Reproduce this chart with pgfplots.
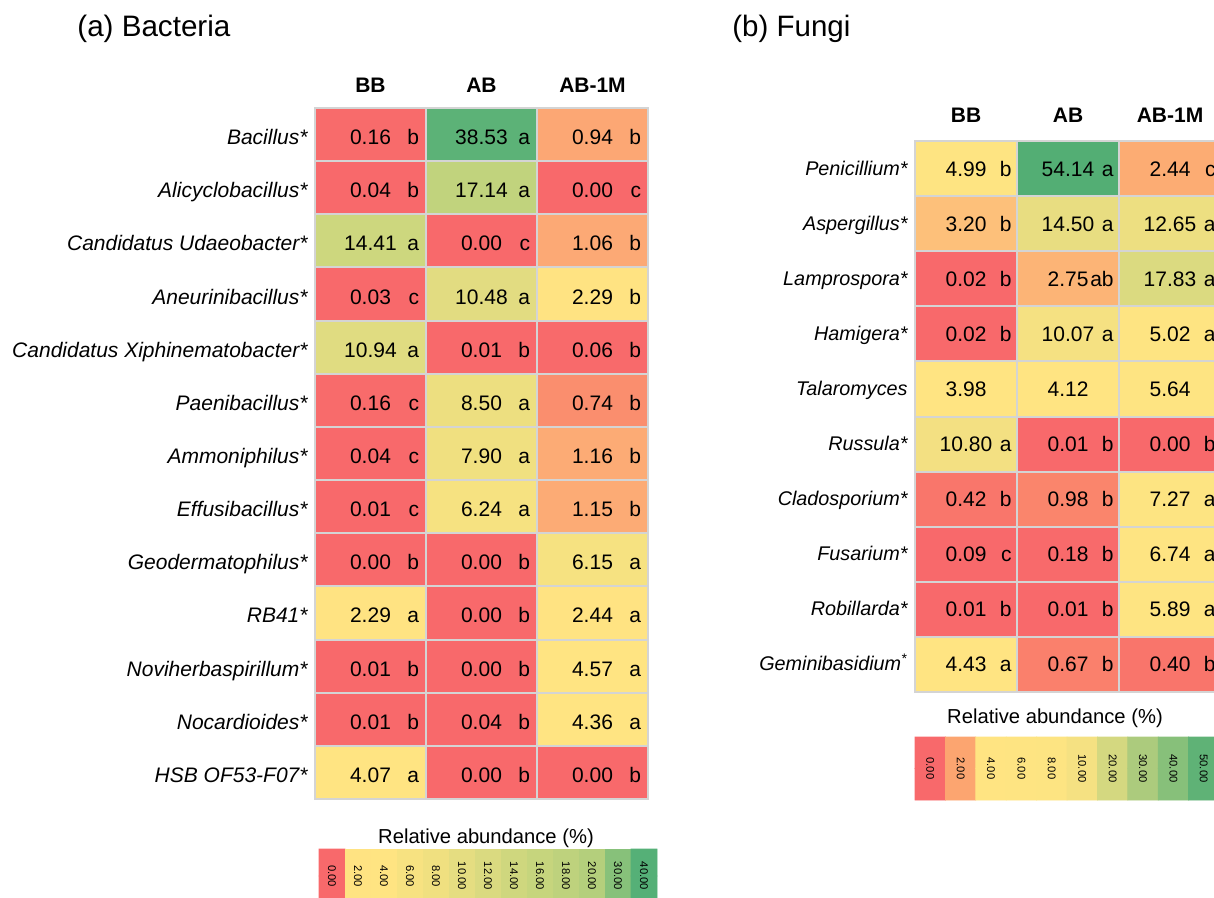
\documentclass[border=0pt]{standalone}
\usepackage{pgfplots}
\pgfplotsset{compat=1.18}
\usepackage{fontspec}
\setmainfont{Liberation Sans}
\definecolor{gridc}{RGB}{212,212,212}
\newcommand{\cellfont}{\fontsize{10.5}{12}\selectfont}

\pgfplotsset{
  heat/.style={
    scale only axis, axis on top, clip=false,
    xmin=-0.5, xmax=2.5, y dir=reverse,
    xtick={0,1,2}, xticklabels={BB,AB,AB-1M}, xticklabel pos=right,
    xticklabel style={font=\cellfont\bfseries, anchor=base, inner sep=0pt},
    yticklabel style={anchor=base east, inner sep=0pt},
    minor xtick={0.5,1.5},
    major tick length=0pt, minor tick length=0pt,
    xminorgrids, yminorgrids,
    minor grid style={gridc, line width=1pt},
    axis line style={gridc, line width=1pt},
    tick style={draw=none},
  },
  colormap={bact}{rgb255(0pt)=(248,105,107) rgb255(0.3pt)=(248,108,107) rgb255(0.74pt)=(250,142,110)
     rgb255(0.9pt)=(252,166,116) rgb255(1.2pt)=(252,172,117) rgb255(2pt)=(255,227,130)
     rgb255(4.6pt)=(255,228,130) rgb255(6pt)=(247,226,129) rgb255(8pt)=(240,224,128)
     rgb255(10pt)=(229,221,129) rgb255(12pt)=(218,218,128) rgb255(14pt)=(207,215,126)
     rgb255(16pt)=(198,213,125) rgb255(18pt)=(190,210,125) rgb255(20pt)=(180,207,124)
     rgb255(30pt)=(135,193,122) rgb255(40pt)=(85,176,119)},
  colormap={fung}{rgb255(0pt)=(248,105,107) rgb255(0.2pt)=(248,106,107) rgb255(0.41pt)=(249,118,107)
     rgb255(0.67pt)=(250,128,108) rgb255(1pt)=(250,133,108) rgb255(2pt)=(252,165,112)
     rgb255(2.44pt)=(252,172,115) rgb255(3.2pt)=(253,192,122) rgb255(3.9pt)=(255,228,130)
     rgb255(8pt)=(253,228,130) rgb255(10pt)=(245,225,130) rgb255(14.5pt)=(232,221,129)
     rgb255(18pt)=(218,218,128) rgb255(20pt)=(212,216,128) rgb255(30pt)=(172,203,125)
     rgb255(40pt)=(135,192,122) rgb255(50pt)=(95,178,118) rgb255(55pt)=(80,173,115)},
}

\pgfplotstableread{
x y v
0 0 0.16
1 0 38.53
2 0 0.94
0 1 0.04
1 1 17.14
2 1 0.00
0 2 14.41
1 2 0.00
2 2 1.06
0 3 0.03
1 3 10.48
2 3 2.29
0 4 10.94
1 4 0.01
2 4 0.06
0 5 0.16
1 5 8.50
2 5 0.74
0 6 0.04
1 6 7.90
2 6 1.16
0 7 0.01
1 7 6.24
2 7 1.15
0 8 0.00
1 8 0.00
2 8 6.15
0 9 2.29
1 9 0.00
2 9 2.44
0 10 0.01
1 10 0.00
2 10 4.57
0 11 0.01
1 11 0.04
2 11 4.36
0 12 4.07
1 12 0.00
2 12 0.00
}\bactdata

\pgfplotstableread{
x y t
0 0 0.16
1 0 38.53
2 0 0.94
0 1 0.04
1 1 17.14
2 1 0.00
0 2 14.41
1 2 0.00
2 2 1.06
0 3 0.03
1 3 10.48
2 3 2.29
0 4 10.94
1 4 0.01
2 4 0.06
0 5 0.16
1 5 8.50
2 5 0.74
0 6 0.04
1 6 7.90
2 6 1.16
0 7 0.01
1 7 6.24
2 7 1.15
0 8 0.00
1 8 0.00
2 8 6.15
0 9 2.29
1 9 0.00
2 9 2.44
0 10 0.01
1 10 0.00
2 10 4.57
0 11 0.01
1 11 0.04
2 11 4.36
0 12 4.07
1 12 0.00
2 12 0.00
}\bactnum

\pgfplotstableread{
x y t
0.5 0 b
1.5 0 a
2.5 0 b
0.5 1 b
1.5 1 a
2.5 1 c
0.5 2 a
1.5 2 c
2.5 2 b
0.5 3 c
1.5 3 a
2.5 3 b
0.5 4 a
1.5 4 b
2.5 4 b
0.5 5 c
1.5 5 a
2.5 5 b
0.5 6 c
1.5 6 a
2.5 6 b
0.5 7 c
1.5 7 a
2.5 7 b
0.5 8 b
1.5 8 b
2.5 8 a
0.5 9 a
1.5 9 b
2.5 9 a
0.5 10 b
1.5 10 b
2.5 10 a
0.5 11 b
1.5 11 b
2.5 11 a
0.5 12 a
1.5 12 b
2.5 12 b
}\bactlet

\pgfplotstableread{
x y v
0 0 4.99
1 0 54.14
2 0 2.44
0 1 3.20
1 1 14.50
2 1 12.65
0 2 0.02
1 2 2.75
2 2 17.83
0 3 0.02
1 3 10.07
2 3 5.02
0 4 3.98
1 4 4.12
2 4 5.64
0 5 10.80
1 5 0.01
2 5 0.00
0 6 0.42
1 6 0.98
2 6 7.27
0 7 0.09
1 7 0.18
2 7 6.74
0 8 0.01
1 8 0.01
2 8 5.89
0 9 4.43
1 9 0.67
2 9 0.40
}\fungdata

\pgfplotstableread{
x y t
0 0 4.99
1 0 54.14
2 0 2.44
0 1 3.20
1 1 14.50
2 1 12.65
0 2 0.02
1 2 2.75
2 2 17.83
0 3 0.02
1 3 10.07
2 3 5.02
0 4 3.98
1 4 4.12
2 4 5.64
0 5 10.80
1 5 0.01
2 5 0.00
0 6 0.42
1 6 0.98
2 6 7.27
0 7 0.09
1 7 0.18
2 7 6.74
0 8 0.01
1 8 0.01
2 8 5.89
0 9 4.43
1 9 0.67
2 9 0.40
}\fungnum

\pgfplotstableread{
x y t
0.5 0 b
1.5 0 a
2.5 0 c
0.5 1 b
1.5 1 a
2.5 1 a
0.5 2 b
1.5 2 ab
2.5 2 a
0.5 3 b
1.5 3 a
2.5 3 a
0.5 5 a
1.5 5 b
2.5 5 b
0.5 6 b
1.5 6 b
2.5 6 a
0.5 7 c
1.5 7 b
2.5 7 a
0.5 8 b
1.5 8 b
2.5 8 a
0.5 9 a
1.5 9 b
2.5 9 b
}\funglet

\begin{document}
\begin{tikzpicture}
\path[use as bounding box] (0,0) rectangle (607pt,-449pt);
\begin{scope}
\clip (0,0) rectangle (607pt,-449pt);

% ---------------- (a) Bacteria ----------------
\begin{axis}[heat, at={(157.5pt,-54pt)}, anchor=north west,
  width=166.5pt, height=345.5pt, ymin=-0.5, ymax=12.5,
  colormap name=bact, point meta min=0, point meta max=40,
  ytick={0,...,12},
  yticklabels={Bacillus*,Alicyclobacillus*,Candidatus Udaeobacter*,Aneurinibacillus*,
    Candidatus Xiphinematobacter*,Paenibacillus*,Ammoniphilus*,Effusibacillus*,
    Geodermatophilus*,RB41*,Noviherbaspirillum*,Nocardioides*,HSB OF53-F07*},
  minor ytick={0.5,1.5,...,11.5},
  xticklabel style={yshift=8pt},
  yticklabel style={font=\cellfont\itshape, xshift=-3.5pt, yshift=-5pt},
]
\addplot[matrix plot*, mesh/cols=3, point meta=explicit] table[meta=v]{\bactdata};
\addplot[draw=none, mark=none, nodes near coords, point meta=explicit symbolic,
  nodes near coords style={font=\cellfont, text=black, anchor=base, inner sep=0pt, yshift=-5pt}]
  table[meta=t]{\bactnum};
\addplot[draw=none, mark=none, nodes near coords, point meta=explicit symbolic,
  nodes near coords style={font=\cellfont, text=black, anchor=base east, inner sep=0pt, yshift=-5pt, xshift=-3.25pt}]
  table[meta=t]{\bactlet};
\end{axis}

% legend (a)
\begin{axis}[at={(159.5pt,-424.5pt)}, anchor=north west, scale only axis,
  width=169pt, height=27pt, xmin=-0.5, xmax=12.5, ymin=-0.5, ymax=1.5,
  hide axis, clip=false, colormap name=bact, point meta min=0, point meta max=40]
\addplot[matrix plot*, mesh/cols=13, point meta=explicit] table[meta=v]{
x y v
0 0 0
1 0 2
2 0 4
3 0 6
4 0 8
5 0 10
6 0 12
7 0 14
8 0 16
9 0 18
10 0 20
11 0 30
12 0 40
0 1 0
1 1 2
2 1 4
3 1 6
4 1 8
5 1 10
6 1 12
7 1 14
8 1 16
9 1 18
10 1 20
11 1 30
12 1 40
};
\addplot[draw=none, mark=none, nodes near coords, point meta=explicit symbolic,
  nodes near coords style={font=\fontsize{5.6}{6.5}\selectfont, text=black, rotate=-90, anchor=center, inner sep=0pt}]
  table[meta=t]{
x y t
0 0.5 0.00
1 0.5 2.00
2 0.5 4.00
3 0.5 6.00
4 0.5 8.00
5 0.5 10.00
6 0.5 12.00
7 0.5 14.00
8 0.5 16.00
9 0.5 18.00
10 0.5 20.00
11 0.5 30.00
12 0.5 40.00
};
\end{axis}

% ---------------- (b) Fungi ----------------
\begin{axis}[heat, at={(457.5pt,-70.5pt)}, anchor=north west,
  width=153pt, height=275.5pt, ymin=-0.5, ymax=9.5,
  colormap name=fung, point meta min=0, point meta max=55,
  ytick={0,...,9},
  yticklabels={Penicillium*,Aspergillus*,Lamprospora*,Hamigera*,Talaromyces,Russula*,
    Cladosporium*,Fusarium*,Robillarda*,{Geminibasidium\textsuperscript{*}}},
  minor ytick={0.5,1.5,...,8.5},
  xticklabel style={yshift=9.5pt},
  yticklabel style={font=\fontsize{9.9}{12}\selectfont\itshape, xshift=-3.5pt, yshift=-3.25pt},
]
\addplot[matrix plot*, mesh/cols=3, point meta=explicit] table[meta=v]{\fungdata};
\addplot[draw=none, mark=none, nodes near coords, point meta=explicit symbolic,
  nodes near coords style={font=\cellfont, text=black, anchor=base, inner sep=0pt, yshift=-3.75pt}]
  table[meta=t]{\fungnum};
\addplot[draw=none, mark=none, nodes near coords, point meta=explicit symbolic,
  nodes near coords style={font=\cellfont, text=black, anchor=base east, inner sep=0pt, yshift=-3.75pt, xshift=-2.5pt}]
  table[meta=t]{\funglet};
\end{axis}

% legend (b)
\begin{axis}[at={(457.5pt,-368.5pt)}, anchor=north west, scale only axis,
  width=152pt, height=31.5pt, xmin=-0.5, xmax=9.5, ymin=-0.5, ymax=1.5,
  hide axis, clip=false, colormap name=fung, point meta min=0, point meta max=55]
\addplot[matrix plot*, mesh/cols=10, point meta=explicit] table[meta=v]{
x y v
0 0 0
1 0 2
2 0 4
3 0 6
4 0 8
5 0 10
6 0 20
7 0 30
8 0 40
9 0 50
0 1 0
1 1 2
2 1 4
3 1 6
4 1 8
5 1 10
6 1 20
7 1 30
8 1 40
9 1 50
};
\addplot[draw=none, mark=none, nodes near coords, point meta=explicit symbolic,
  nodes near coords style={font=\fontsize{5.6}{6.5}\selectfont, text=black, rotate=-90, anchor=center, inner sep=0pt}]
  table[meta=t]{
x y t
0 0.5 0.00
1 0.5 2.00
2 0.5 4.00
3 0.5 6.00
4 0.5 8.00
5 0.5 10.00
6 0.5 20.00
7 0.5 30.00
8 0.5 40.00
9 0.5 50.00
};
\end{axis}

% titles
\node[anchor=base west, inner sep=0pt, font=\fontsize{14.8}{18}\selectfont] at (38.5pt,-18.5pt) {(a) Bacteria};
\node[anchor=base west, inner sep=0pt, font=\fontsize{14.75}{18}\selectfont] at (366pt,-18.5pt) {(b) Fungi};
\node[anchor=base, inner sep=0pt, font=\fontsize{10.1}{12}\selectfont] at (243pt,-421.5pt) {Relative abundance (\%)};
\node[anchor=base, inner sep=0pt, font=\fontsize{10.1}{12}\selectfont] at (527.5pt,-361.5pt) {Relative abundance (\%)};
\end{scope}
\end{tikzpicture}
\end{document}
